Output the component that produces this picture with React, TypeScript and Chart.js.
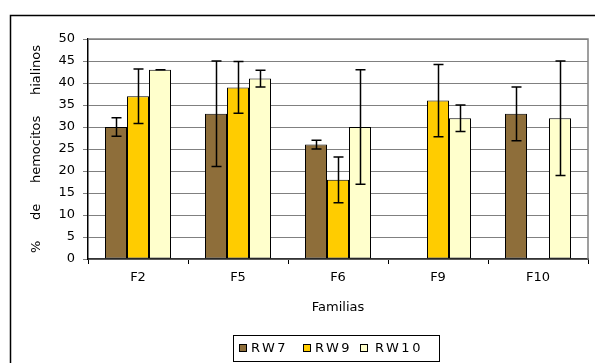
import React, { useEffect, useRef } from "react";
import { Chart, registerables } from "chart.js";

Chart.register(...registerables);

const categories = ["F2", "F5", "F6", "F9", "F10"];
const seriesNames = ["RW7", "RW9", "RW10"];
const rw7 = [30, 33, 26, null, 33];
const rw9 = [37, 39, 18, 36, null];
const rw10 = [43, 41, 30, 32, 32];
const rw7Err = [2.1, 12, 1, null, 6.1];
const rw9Err = [6.2, 5.9, 5.2, 8.2, null];
const rw10Err = [0, 1.9, 13, 3, 13];
const yTicks = [0, 5, 10, 15, 20, 25, 30, 35, 40, 45, 50];
const colors = ["#8E6E3A", "#FFCC00", "#FFFFCC"];
const FONT = '"DejaVu Sans", Verdana, sans-serif';

const errors = [rw7Err, rw9Err, rw10Err];

const framePlugin = {
  id: "frame",
  beforeDraw(chart: any) {
    const ctx = chart.ctx;
    ctx.save();
    ctx.fillStyle = "#ffffff";
    ctx.fillRect(0, 0, chart.width, chart.height);
    ctx.strokeStyle = "#000";
    ctx.lineWidth = 1.5;
    ctx.beginPath();
    ctx.moveTo(10.5, chart.height + 5);
    ctx.lineTo(10.5, 15.5);
    ctx.lineTo(chart.width + 5, 15.5);
    ctx.stroke();
    ctx.restore();
  },
  afterDraw(chart: any) {
    const ctx = chart.ctx;
    const a = chart.chartArea;
    ctx.save();
    ctx.strokeStyle = "#808080";
    ctx.lineWidth = 1.5;
    ctx.beginPath();
    ctx.moveTo(a.left, a.top);
    ctx.lineTo(a.right, a.top);
    ctx.lineTo(a.right, a.bottom);
    ctx.stroke();
    // legend
    const lx = 233.5, ly = 335.5, lw = 206, lh = 26;
    ctx.fillStyle = "#fff";
    ctx.fillRect(lx, ly, lw, lh);
    ctx.strokeStyle = "#000";
    ctx.lineWidth = 1;
    ctx.strokeRect(lx, ly, lw, lh);
    ctx.font = "13px " + FONT;
    (ctx as any).letterSpacing = "2.5px";
    ctx.textBaseline = "middle";
    ctx.textAlign = "left";
    const xs = [239, 303, 360];
    const txs = [251, 315, 375];
    seriesNames.forEach((name, i) => {
      const sx = xs[i];
      ctx.fillStyle = colors[i];
      ctx.fillRect(sx + 0.5, ly + 9, 7, 7);
      ctx.strokeStyle = "#000";
      ctx.strokeRect(sx + 0.5, ly + 9, 7, 7);
      ctx.fillStyle = "#000";
      ctx.fillText(name, txs[i], ly + lh / 2 + 0.5);
    });
    ctx.restore();
  },
  afterDatasetsDraw(chart: any) {
    const ctx = chart.ctx;
    const y = chart.scales.y;
    ctx.save();
    ctx.strokeStyle = "#000";
    ctx.lineWidth = 1.5;
    chart.data.datasets.forEach((ds: any, i: number) => {
      const meta = chart.getDatasetMeta(i);
      ds.data.forEach((v: number | null, j: number) => {
        const e = errors[i][j];
        if (v == null || e == null) return;
        const bar = meta.data[j];
        const x = Math.round(bar.x) + 0.5;
        const yHi = y.getPixelForValue(v + e);
        const yLo = y.getPixelForValue(v - e);
        ctx.beginPath();
        ctx.moveTo(x, yHi);
        ctx.lineTo(x, yLo);
        ctx.moveTo(x - 5, yHi);
        ctx.lineTo(x + 5, yHi);
        ctx.moveTo(x - 5, yLo);
        ctx.lineTo(x + 5, yLo);
        ctx.stroke();
      });
    });
    ctx.restore();
  },
};

export default function App() {
  const ref = useRef<HTMLCanvasElement>(null);
  useEffect(() => {
    if (!ref.current) return;
    const chart = new Chart(ref.current, {
      type: "bar",
      data: {
        labels: categories,
        datasets: [rw7, rw9, rw10].map((d, i) => ({
          label: seriesNames[i],
          data: d as any,
          backgroundColor: colors[i],
          borderColor: "#000",
          borderWidth: 1,
          borderSkipped: false,
          categoryPercentage: 0.66,
          barPercentage: 1,
        })),
      },
      options: {
        animation: false,
        responsive: false,
        maintainAspectRatio: false,
        layout: { padding: { top: 39, right: 7, bottom: 39, left: 0 } },
        plugins: { legend: { display: false }, tooltip: { enabled: false } },
        scales: {
          x: {
            grid: {
              display: true,
              offset: true,
              drawOnChartArea: false,
              drawTicks: true,
              tickLength: 5,
              color: "#000",
            },
            border: { display: true, color: "#333", width: 1.5 },
            ticks: { color: "#000", font: { family: FONT, size: 13 }, padding: 6 },
            title: {
              display: true,
              text: "Familias",
              color: "#000",
              font: { family: FONT, size: 13 },
              padding: { top: 0, bottom: 9 },
            },
            afterFit: (s: any) => {
              s.height = 65;
            },
          },
          y: {
            min: 0,
            max: 50,
            afterBuildTicks: (s: any) => {
              s.ticks = yTicks.map((v) => ({ value: v }));
            },
            grid: { color: "#808080", lineWidth: 1, tickLength: 5, drawTicks: true },
            border: { display: true, color: "#000", width: 1.5 },
            ticks: { color: "#000", font: { family: FONT, size: 13 }, padding: 8 },
            title: {
              display: true,
              text: "%     de     hemocitos     hialinos",
              color: "#000",
              font: { family: FONT, size: 13 },
              padding: { top: 29, bottom: 0 },
            },
            afterFit: (s: any) => {
              s.width = 88;
            },
          },
        },
      },
      plugins: [framePlugin],
    });
    return () => chart.destroy();
  }, []);
  return (
    <div style={{ position: "fixed", left: 0, top: 0, width: 595, height: 363, background: "#fff" }}>
      <canvas ref={ref} width={595} height={363} style={{ width: 595, height: 363 }} />
    </div>
  );
}
